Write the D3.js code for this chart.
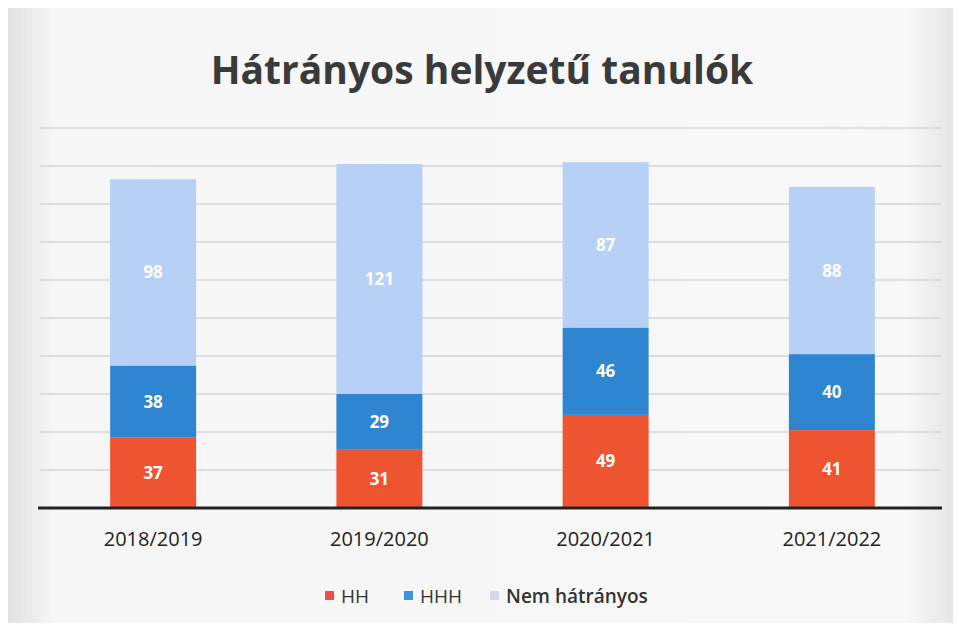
<!DOCTYPE html>
<html><head><meta charset="utf-8">
<script src="https://cdn.jsdelivr.net/npm/d3@7"></script>
<style>body{margin:0;background:#fff;}svg{display:block;}</style>
</head><body>
<svg id="c" width="959" height="630"></svg>
<script>
const categories = ["2018/2019","2019/2020","2020/2021","2021/2022"];
const seriesNames = ["HH","HHH","Nem hátrányos"];
const HH = [37,31,49,41];
const HHH = [38,29,46,40];
const NemHatranyos = [98,121,87,88];
const yTicks = [0,20,40,60,80,100,120,140,160,180,200];
const colors = ["#ef5430","#2f86d0","#b6d0f6"];
const legendColors = ["#e8524a","#3b93de","#d4d8ee"];

const svg = d3.select("#c");
const defs = svg.append("defs");
const g1 = defs.append("linearGradient").attr("id","bg").attr("x1",0).attr("x2",1);
g1.append("stop").attr("offset","0").attr("stop-color","#e2e2e2");
g1.append("stop").attr("offset","0.05").attr("stop-color","#f6f6f6");
g1.append("stop").attr("offset","0.95").attr("stop-color","#f8f8f8");
g1.append("stop").attr("offset","1").attr("stop-color","#e6e6e6");
svg.append("rect").attr("width",959).attr("height",630).attr("fill","#ffffff");
svg.append("rect").attr("x",8).attr("y",8).attr("width",945).attr("height",615).attr("fill","url(#bg)");

const data = categories.map((c,i)=>({cat:c, HH:HH[i], HHH:HHH[i], "Nem hátrányos":NemHatranyos[i]}));
const stack = d3.stack().keys(seriesNames)(data);

const x = d3.scaleBand().domain(categories).range([40,945]).paddingInner(0.62).paddingOuter(0.31);
const y = d3.scaleLinear().domain([0,200]).range([508,128]);

svg.append("g").selectAll("line").data(yTicks.slice(1)).join("line")
  .attr("x1",40).attr("x2",942).attr("y1",d=>y(d)).attr("y2",d=>y(d))
  .attr("stroke","#d6d6d6").attr("stroke-width",1.3);

svg.append("text").attr("x",482).attr("y",84).attr("text-anchor","middle")
  .attr("font-family","Open Sans, sans-serif").attr("font-weight","bold").attr("font-size",39)
  .attr("fill","#3a3a3a").text("Hátrányos helyzetű tanulók");

const layers = svg.append("g").selectAll("g").data(stack).join("g").attr("fill",(d,i)=>colors[i]);
layers.selectAll("rect").data(d=>d).join("rect")
  .attr("x",d=>x(d.data.cat)).attr("width",x.bandwidth())
  .attr("y",d=>y(d[1])).attr("height",d=>y(d[0])-y(d[1]));

layers.selectAll("text").data(d=>d).join("text")
  .attr("x",d=>x(d.data.cat)+x.bandwidth()/2).attr("y",d=>(y(d[0])+y(d[1]))/2+6)
  .attr("text-anchor","middle").attr("fill","#fff").attr("font-weight","bold")
  .attr("font-family","Open Sans, sans-serif").attr("font-size",17)
  .text(d=>d[1]-d[0]);

const xAxis = d3.axisBottom(x).tickSize(0).tickPadding(24);
const ax = svg.append("g").attr("transform","translate(0,508)").call(xAxis);
ax.select(".domain").attr("stroke","#222").attr("stroke-width",3).attr("d","M38,0H942");
ax.selectAll("text").attr("font-family","Open Sans, sans-serif").attr("font-size",20).attr("fill","#222");

const legendX = [325, 404, 490];
const lg = svg.append("g").selectAll("g").data(seriesNames).join("g")
  .attr("transform",(d,i)=>`translate(${legendX[i]},597)`);
lg.append("rect").attr("x",0).attr("y",-6).attr("width",9).attr("height",9).attr("fill",(d,i)=>legendColors[i]);
lg.append("text").attr("x",16).attr("y",6).attr("font-family","Open Sans, sans-serif")
  .attr("font-size",19).attr("fill","#333").attr("font-weight",(d,i)=>i===2?"600":"normal").text(d=>d);
</script>
</body></html>
